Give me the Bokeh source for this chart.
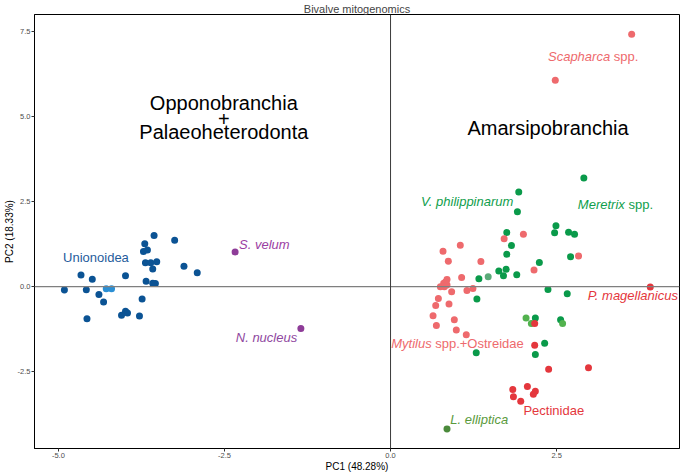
from bokeh.plotting import figure
from bokeh.models import Span, FixedTicker, NumeralTickFormatter, Range1d
from bokeh.core.properties import value
from bokeh.embed import file_html
from bokeh.resources import INLINE

FONT = "Liberation Sans"

# ---------------- data ----------------
x_ticks = [-5.0, -2.5, 0.0, 2.5]
y_ticks = [-2.5, 0.0, 2.5, 5.0, 7.5]

# Unionoidea (dark blue)
union_x = [-4.91, -4.66, -4.49, -4.58, -4.57, -4.39, -4.32, -3.99, -4.05, -3.99,
           -3.96, -3.78, -3.74, -3.70, -3.72, -3.66, -3.56, -3.69, -3.61, -3.52,
           -3.58, -3.68, -3.58, -3.54, -3.25, -3.11, -2.91]
union_y = [-0.10, 0.34, 0.22, -0.09, -0.94, -0.23, -0.45, 0.32, -0.84, -0.72,
           -0.77, -0.86, -0.36, 1.26, 1.03, 1.08, 1.50, 0.70, 0.70, 0.73,
           0.52, 0.16, 0.10, 0.09, 1.36, 0.60, 0.41]
# Unionoidea (light blue)
union_l_x = [-4.28, -4.20]
union_l_y = [-0.06, -0.06]

# Opponobranchia (purple): S. velum, N. nucleus
oppo_x = [-2.34, -1.35]
oppo_y = [1.02, -1.23]

# Mytilus + Ostreidae + Scapharca (salmon)
salmon_x = [3.63, 2.48, 0.79, 1.05, 0.87, 1.36, 1.71, 2.00, 2.83, 2.16,
            1.07, 0.85, 0.83, 0.80, 0.75, 0.81, 0.85, 0.92, 1.15, 1.24,
            0.72, 0.88, 0.68, 0.64, 0.96, 0.69, 0.99, 1.14]
salmon_y = [7.41, 6.06, 1.04, 1.22, 0.75, 0.74, 1.41, 1.54, 0.90, 0.49,
            0.27, 0.21, 0.14, 0.10, 0.00, 0.00, 0.05, -0.15, -0.11, -0.05,
            -0.35, -0.51, -0.55, -0.85, -0.97, -1.14, -1.27, -1.41]

# Pectinidae (red)
red_x = [2.17, 2.17, 2.38, 2.98, 2.06, 1.84, 2.18, 2.15, 1.85, 1.96, 3.91]
red_y = [-1.08, -1.72, -2.42, -2.38, -2.93, -3.02, -3.07, -3.16, -3.23, -3.36, -0.01]

# Veneridae (green)
green_x = [2.91, 1.93, 1.91, 2.49, 2.47, 2.68, 2.77, 1.75, 1.82, 1.75,
           2.71, 2.24, 1.63, 1.74, 1.70, 1.90, 1.33, 2.37, 2.66, 1.30,
           2.18, 2.56, 2.32, 2.18, 1.29]
green_y = [3.19, 2.78, 2.20, 1.79, 1.58, 1.60, 1.54, 1.59, 1.21, 0.95,
           0.88, 0.71, 0.46, 0.51, 0.32, 0.35, 0.23, -0.08, -0.21, -0.36,
           -0.92, -0.97, -1.66, -1.99, -1.94]
# other green shades
sea_x = [1.47]
sea_y = [0.29]
lgreen_x = [2.04, 2.12, 2.59]
lgreen_y = [-0.92, -1.08, -1.08]
# L. elliptica (olive)
olive_x = [0.85]
olive_y = [-4.18]

# ---------------- figure ----------------
p = figure(width=680, height=474, output_backend="svg", toolbar_location=None,
           x_range=Range1d(-5.36, 4.35), y_range=Range1d(-4.75, 7.99),
           title="Bivalve mitogenomics",
           min_border_left=0, min_border_right=1, min_border_top=0, min_border_bottom=0)

p.title.text_font = FONT
p.title.text_font_size = "11px"
p.title.text_font_style = "normal"
p.title.align = "center"
p.title.standoff = 0
p.title.offset = 0

p.grid.visible = False
p.outline_line_color = "black"
p.outline_line_width = 1
p.background_fill_color = "white"
p.border_fill_color = "white"

for ax in (p.xaxis, p.yaxis):
    ax.axis_line_color = "black"
    ax.major_tick_line_color = "#333333"
    ax.major_tick_out = 3
    ax.major_tick_in = 0
    ax.minor_tick_line_color = None
    ax.major_label_text_font = FONT
    ax.major_label_text_font_size = "7.5px"
    ax.major_label_text_color = "#4d4d4d"
    ax.major_label_standoff = 1
    ax.axis_label_text_font = FONT
    ax.axis_label_text_font_size = "10px"
    ax.axis_label_text_font_style = "normal"
    ax.axis_label_text_color = "black"
    ax.axis_label_standoff = 0
    ax.formatter = NumeralTickFormatter(format="0.0")

p.xaxis.ticker = FixedTicker(ticks=x_ticks)
p.yaxis.ticker = FixedTicker(ticks=y_ticks)
p.xaxis.axis_label = "PC1 (48.28%)"
p.yaxis.axis_label = "PC2 (18.33%)"

p.add_layout(Span(location=0, dimension="width", line_color="#7f7f7f", line_width=1.2))
p.add_layout(Span(location=0, dimension="height", line_color="#3a3a3a", line_width=1))

S = 7
p.scatter(union_x, union_y, size=S, color="#0b5394", line_color=None)
p.scatter(union_l_x, union_l_y, size=S, color="#2b8fd4", line_color=None)
p.scatter(oppo_x, oppo_y, size=S, color="#8e3c98", line_color=None)
p.scatter(green_x, green_y, size=S, color="#0a9a4a", line_color=None)
p.scatter(sea_x, sea_y, size=S, color="#5aaa78", line_color=None)
p.scatter(lgreen_x, lgreen_y, size=S, color="#52b24e", line_color=None)
p.scatter(salmon_x, salmon_y, size=S, color="#ee6a6d", line_color=None)
p.scatter(red_x, red_y, size=S, color="#e4373d", line_color=None)
p.scatter(olive_x, olive_y, size=S, color="#4b8a3b", line_color=None)

F = value(FONT)

def lab(x, y, t, color, style="normal", size="13px", align="left", xoff=0):
    p.text(x=[x], y=[y], text=[t], text_font=F, text_font_size=size,
           text_font_style=style, text_color=color, text_align=align,
           text_baseline="middle", x_offset=xoff)

# big clade labels
lab(-2.51, 5.40, "Opponobranchia", "black", size="20px", align="center")
lab(-2.51, 4.93, "+", "black", size="20px", align="center")
lab(-2.51, 4.53, "Palaeoheterodonta", "black", size="20px", align="center")
lab(2.37, 4.65, "Amarsipobranchia", "black", size="20px", align="center")

# group labels (a space is 3.6px at 13px)
lab(-4.93, 0.87, "Unionoidea", "#1f5c9c")
lab(-2.28, 1.25, "S. velum", "#9b40a3", style="italic")
lab(-2.33, -1.48, "N. nucleus", "#8f48a0", style="italic")
lab(2.37, 6.77, "Scapharca", "#ee6a6d", style="italic")
lab(2.37, 6.77, "spp.", "#ee6a6d", xoff=65.8)
lab(0.46, 2.51, "V. philippinarum", "#0f9e4c", style="italic")
lab(2.82, 2.40, "Meretrix", "#0f9e4c", style="italic")
lab(2.82, 2.40, "spp.", "#0f9e4c", xoff=50.6)
lab(2.97, -0.27, "P. magellanicus", "#e4373d", style="italic")
lab(0.01, -1.66, "Mytilus", "#ee6a6d", style="italic")
lab(0.01, -1.66, "spp.+Ostreidae", "#ee6a6d", xoff=44.0)
lab(2.00, -3.62, "Pectinidae", "#e4373d")
lab(0.90, -3.89, "L. elliptica", "#5a9a3c", style="italic")

open("out.html", "w").write(file_html(p, INLINE))
